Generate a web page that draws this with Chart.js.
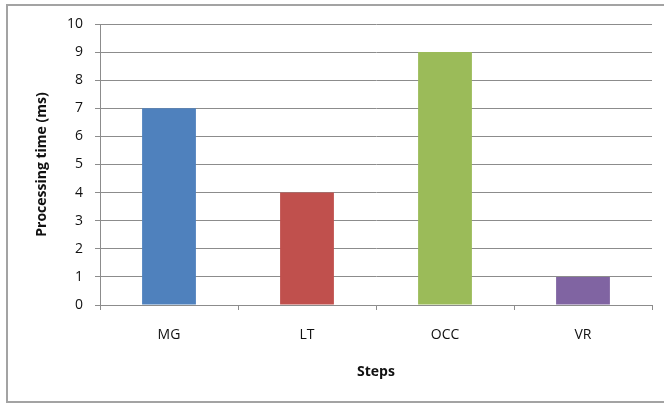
<!DOCTYPE html>
<html>
<head>
<meta charset="utf-8">
<script src="https://cdn.jsdelivr.net/npm/chart.js@4.4.1/dist/chart.umd.min.js"></script>
<style>
  html, body { margin: 0; padding: 0; background: #ffffff; }
  #wrap { position: relative; width: 664px; height: 407px; overflow: hidden; }
  #frame {
    position: absolute; left: 6px; top: 4px; width: 670px; height: 399px;
    border: 2px solid #a3a3a3; box-sizing: border-box; pointer-events: none;
  }
  canvas { position: absolute; left: 0; top: 0; }
</style>
</head>
<body>
<div id="wrap">
  <canvas id="chart" width="664" height="407"></canvas>
  <div id="frame"></div>
</div>
<script>
// Processing time per pipeline step
const steps = ['MG', 'LT', 'OCC', 'VR'];
const timesMs = [7, 4, 9, 1];
const barColors = ['#4F81BD', '#C0504D', '#9BBB59', '#8064A2'];
const yTicks = [0, 1, 2, 3, 4, 5, 6, 7, 8, 9, 10];

const FONT = '"Open Sans", "Liberation Sans", sans-serif';
const GRID = '#8c8c8c';
const TEXT = '#111111';

new Chart(document.getElementById('chart'), {
  type: 'bar',
  data: {
    labels: steps,
    datasets: [{
      data: timesMs,
      backgroundColor: barColors,
      borderWidth: 0,
      barPercentage: 1,
      categoryPercentage: 0.39
    }]
  },
  options: {
    responsive: false,
    animation: false,
    layout: { padding: { top: 24, right: 12, left: 0, bottom: 0 } },
    plugins: { legend: { display: false }, tooltip: { enabled: false } },
    scales: {
      x: {
        grid: { offset: true, drawOnChartArea: false, drawTicks: true, tickLength: 5, color: GRID },
        border: { display: true, color: GRID, width: 1 },
        ticks: { color: TEXT, font: { family: FONT, size: 14 }, padding: 17 },
        title: {
          display: true, text: 'Steps', color: TEXT,
          font: { family: FONT, size: 14, weight: 'bold' },
          padding: { top: 0, bottom: 27 }
        },
        afterFit: (scale) => { scale.height = 102; }
      },
      y: {
        min: 0, max: 10,
        afterBuildTicks: (scale) => { scale.ticks = yTicks.map(v => ({ value: v })); },
        grid: { color: GRID, lineWidth: 1, tickLength: 5 },
        border: { display: true, color: GRID, width: 1 },
        ticks: { color: TEXT, font: { family: FONT, size: 14 }, padding: 12 },
        title: {
          display: true, text: 'Processing time (ms)', color: TEXT,
          font: { family: FONT, size: 14, weight: 'bold' },
          padding: { top: 34, bottom: 0 }
        },
        afterFit: (scale) => { scale.width = 100; }
      }
    }
  }
});
</script>
</body>
</html>
